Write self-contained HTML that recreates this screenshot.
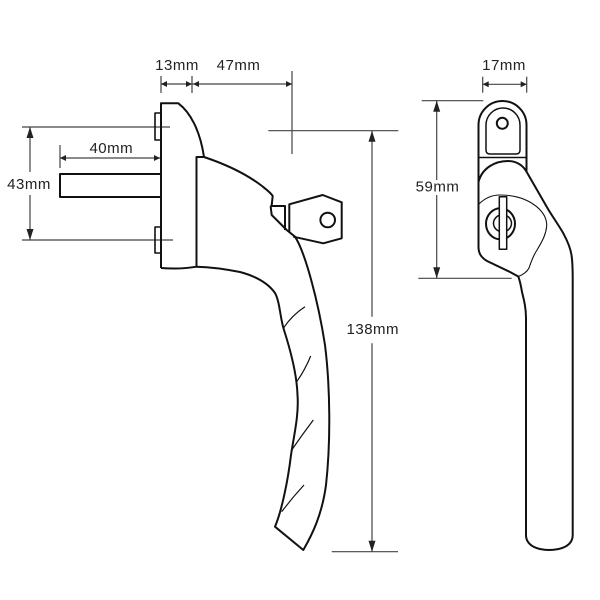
<!DOCTYPE html>
<html><head><meta charset="utf-8"><style>
html,body{margin:0;padding:0;background:#fff;}
svg{display:block;}
text{font-family:"Liberation Sans",sans-serif;font-size:15px;fill:#222;letter-spacing:0.5px;}
</style></head><body>
<svg width="600" height="600" viewBox="0 0 600 600" xmlns="http://www.w3.org/2000/svg">
<rect width="600" height="600" fill="#fff"/>
<!-- dimension lines -->
<g stroke="#444" stroke-width="1.2" fill="none">
  <!-- 13mm / 47mm -->
  <line x1="161" y1="76" x2="161" y2="93"/>
  <line x1="192" y1="76" x2="192" y2="93"/>
  <line x1="161" y1="84" x2="292" y2="84"/>
  <line x1="292" y1="71" x2="292" y2="154"/>
  <line x1="268.3" y1="130.7" x2="398.3" y2="130.7"/>
  <!-- 138 -->
  <line x1="372" y1="131" x2="372" y2="316.7"/>
  <line x1="372" y1="343.3" x2="372" y2="551.7"/>
  <line x1="331.7" y1="551.7" x2="398" y2="551.7"/>
  <!-- 43mm -->
  <line x1="22" y1="127" x2="170" y2="127"/>
  <line x1="22" y1="240" x2="173" y2="240"/>
  <line x1="30" y1="127" x2="30" y2="172"/>
  <line x1="30" y1="195" x2="30" y2="240"/>
  <!-- 40mm -->
  <line x1="60" y1="145" x2="60" y2="168"/>
  <line x1="60" y1="158" x2="160" y2="158"/>
  <!-- 17mm -->
  <line x1="482.7" y1="76.7" x2="482.7" y2="92.7"/>
  <line x1="526.7" y1="76.7" x2="526.7" y2="92.7"/>
  <line x1="482.7" y1="84.3" x2="526.7" y2="84.3"/>
  <!-- 59mm -->
  <line x1="421.7" y1="100.7" x2="483.3" y2="100.7"/>
  <line x1="418.3" y1="278.3" x2="511.7" y2="278.3"/>
  <line x1="436.7" y1="101" x2="436.7" y2="180"/>
  <line x1="436.7" y1="195" x2="436.7" y2="278"/>
</g>
<!-- arrowheads -->
<g fill="#222">
  <polygon points="161,84 167,81 167,87"/>
  <polygon points="192,84 186,81 186,87"/>
  <polygon points="193,84 199,81 199,87"/>
  <polygon points="292,84 286,81 286,87"/>
  <polygon points="482.7,84.3 488.7,81.3 488.7,87.3"/>
  <polygon points="526.7,84.3 520.7,81.3 520.7,87.3"/>
  <polygon points="60,158 66,155 66,161"/>
  <polygon points="160,158 154,155 154,161"/>
  <polygon points="30,127 26.5,138 33.5,138"/>
  <polygon points="30,240 26.5,229 33.5,229"/>
  <polygon points="436.7,100.7 433.2,111.7 440.2,111.7"/>
  <polygon points="436.7,278.3 433.2,267.3 440.2,267.3"/>
  <polygon points="372,130.7 368.5,141.7 375.5,141.7"/>
  <polygon points="372,551.7 368.5,540.7 375.5,540.7"/>
</g>
<!-- labels -->
<text x="177" y="70" text-anchor="middle">13mm</text>
<text x="238.5" y="70" text-anchor="middle">47mm</text>
<text x="504" y="70" text-anchor="middle">17mm</text>
<text x="111.3" y="153" text-anchor="middle">40mm</text>
<text x="29" y="189" text-anchor="middle">43mm</text>
<text x="437.5" y="191.5" text-anchor="middle">59mm</text>
<text x="372.8" y="334" text-anchor="middle">138mm</text>

<!-- LEFT HANDLE -->
<g stroke="#111" stroke-width="2" fill="none" stroke-linejoin="round">
  <rect x="60" y="174" width="101" height="23" fill="#fff"/>
  <rect x="155" y="113" width="6" height="27" stroke-width="1.6"/>
  <rect x="155" y="227" width="6" height="26" stroke-width="1.6"/>
  <path d="M161,268 L161,103.3 L178.3,103.3 C190,112 200,130 204,157" />
  <path d="M161,268 Q180,269.5 196.7,266.7"/>
  <path d="M196.5,266.7 L196.5,157 L204,157 C222,163 245,173 262,186 C267,190 271,193 272.7,196 L271.7,205 L270.7,207 L271.7,215 L286.7,230 L295,236.7 C305,252 318,300 325,345 C330,385 331,440 326,485 C322,515 312,535 303.3,550 L275,526.7 C282,510 288,480 291,455 C294,435 299,415 297.5,395 C297,378 292,355 284,330 C280,318 280,302 275,293 C268,283 255,276 240,272 C225,269 210,267 196.5,266.7 Z"/>
  <path d="M270.7,206 L285,206 L285,230"/>
  <path d="M289.3,231.7 L289.3,204.3 L322.7,195 L341.7,202.3 L341.7,238.3 L323.3,243.3 L293.3,236.7"/>
  <circle cx="327.7" cy="220" r="7.3"/>
</g>
<g stroke="#111" stroke-width="1.2" fill="none">
  <path d="M283.3,328.3 Q292,315 305,306.7"/>
  <path d="M296.7,381.7 Q305,370 310.7,356"/>
  <path d="M291.7,450 Q302,435 313.3,420"/>
  <path d="M281.7,511.7 Q292,498 304,485"/>
</g>

<!-- RIGHT HANDLE -->
<g stroke="#111" stroke-width="2" fill="none" stroke-linejoin="round">
  <path d="M478.5,247 L478.5,125 A24,24 0 0 1 526.5,125 L526.5,172"/>
  <line x1="478.5" y1="157.5" x2="526.5" y2="157.5" stroke-width="1.4"/>
  <path d="M486,125 A17,17 0 0 1 520,125 L520,150 Q520,154 516,154 L490,154 Q486,154 486,150 Z" stroke-width="1.5"/>
  <circle cx="502.3" cy="123.3" r="5.5"/>
  <path d="M478.5,182 C482,168 495,161 508,161 C516,161 523,165 526.7,172 C533,183 540,195 546.7,206.7 C552,216 558,224 563.3,233.3 C568,242 571,249 571.7,256.7 C573,266 572.7,275 572.7,290 L572.7,535 C572.7,546 561,550 549,550 C538,550 526,546 526,535 L526,318 C526,308 524,300 522,292 C521,286 520,281 518.3,276.5 L510,272 L487,261 C483,258.5 478.5,255 478.5,247"/>
  <ellipse cx="500.5" cy="223.8" rx="14.5" ry="15.5"/>
  <ellipse cx="502.5" cy="223.3" rx="9" ry="8.5" stroke-width="1.5"/>
  <rect x="499.3" y="196.7" width="7.4" height="52.6" fill="#fff" stroke-width="1.5"/>
</g>
<path d="M479,204 C485,198 492,195 500,195 C510,195 525,197 536.7,206.7 C543,212 547,218 546.7,226 C546,234 543,240 537,250 C533,256 531,262 529,268 C527,272 522,275 518.3,276.5" stroke="#111" stroke-width="1.1" fill="none"/>
</svg>
</body></html>
